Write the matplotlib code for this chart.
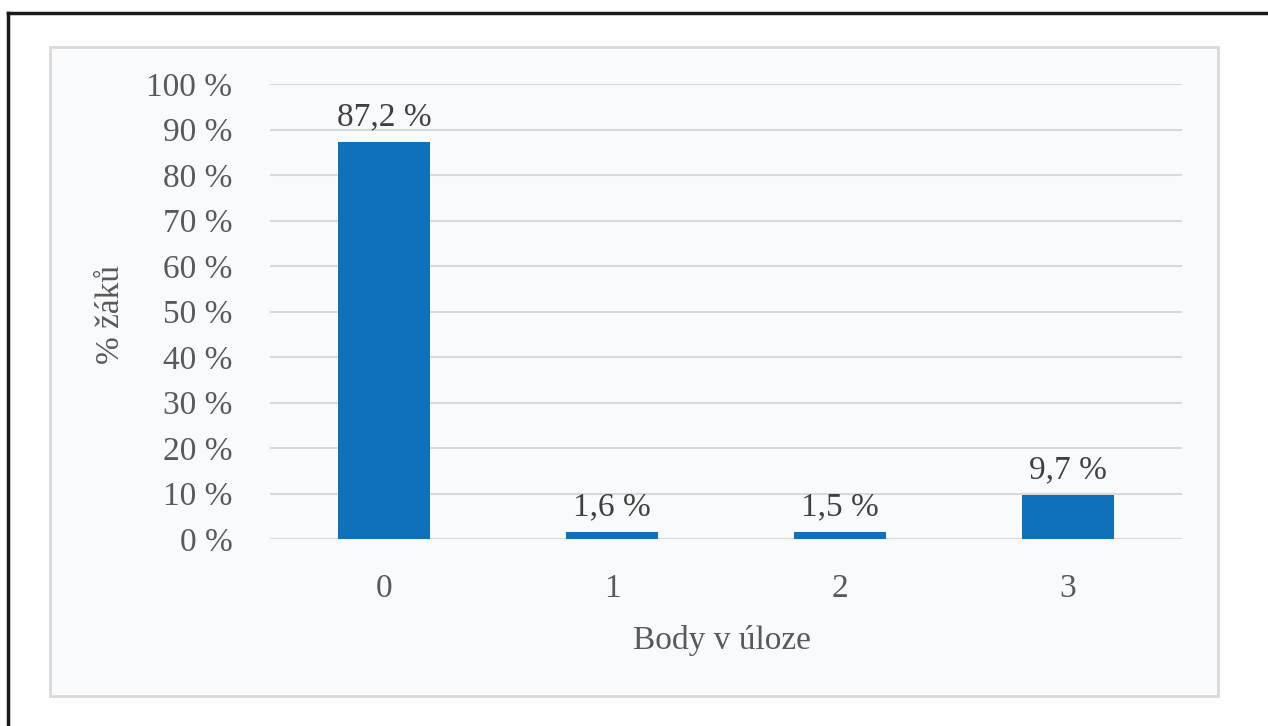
import numpy as np
import matplotlib.pyplot as plt
from matplotlib.patches import Rectangle
from matplotlib.lines import Line2D

categories = ["0", "1", "2", "3"]
values = [87.2, 1.6, 1.5, 9.7]
value_labels = ["87,2 %", "1,6 %", "1,5 %", "9,7 %"]
yticks = list(range(0, 101, 10))
ytick_labels = [f"{t} %" for t in yticks]

W, H = 1268, 726
plt.rcParams['font.family'] = ['Liberation Serif', 'DejaVu Serif']

fig = plt.figure(figsize=(W / 100, H / 100), dpi=100)
fig.patch.set_facecolor("white")

# inner chart box
fig.patches.append(Rectangle((50 / W, 1 - 696 / H), (1218 - 50) / W, (696 - 47) / H,
                             transform=fig.transFigure, facecolor="#F9FAFC",
                             edgecolor="#D9D9D9", linewidth=2, zorder=-1))
# outer black frame (cropped)
fig.lines.append(Line2D([8 / W, 8 / W], [0, 1 - 13 / H], transform=fig.transFigure,
                        color="#1a1a1a", linewidth=2.5))
fig.lines.append(Line2D([8 / W, 1], [1 - 13 / H, 1 - 13 / H], transform=fig.transFigure,
                        color="#1a1a1a", linewidth=2.5))

ax = fig.add_axes([270 / W, 1 - 539 / H, (1182 - 270) / W, (539 - 84) / H])
ax.set_zorder(2)
ax.set_facecolor("none")
x = np.arange(len(categories))
ax.bar(x, values, width=0.405, color="#0F71BA", zorder=3)
ax.set_xlim(-0.5, 3.5)
ax.set_ylim(0, 100)
ax.set_yticks(yticks)
ax.set_yticklabels(ytick_labels)
ax.set_xticks(x)
ax.set_xticklabels(categories)
ax.grid(axis="y", color="#D9D9D9", linewidth=1.5, zorder=0)
for s in ax.spines.values():
    s.set_visible(False)
ax.tick_params(axis="y", length=0, pad=27, labelsize=24, labelcolor="#595959")
ax.tick_params(axis="x", length=0, pad=25, labelsize=24, labelcolor="#595959")

for xi, v, lab in zip(x, values, value_labels):
    ax.annotate(lab, (xi, v), xytext=(0, 7), textcoords="offset points",
                ha="center", va="bottom", fontsize=24, color="#404040")

fig.text(722 / W, 1 - 641 / H, "Body v úloze", ha="center", va="center",
         fontsize=24, color="#595959")
fig.text(111 / W, 1 - 315 / H, "% žáků", ha="center", va="center",
         rotation=90, fontsize=24, color="#595959")

fig.savefig("out.png", dpi=100)
